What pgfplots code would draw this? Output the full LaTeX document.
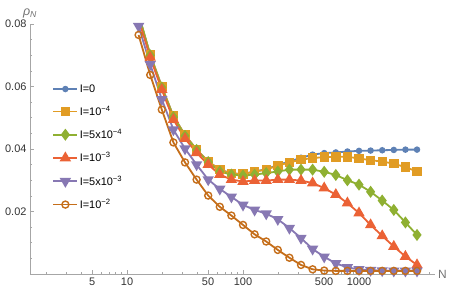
\documentclass[border=0pt]{standalone}
\usepackage{fontspec}
\setmainfont{Liberation Sans}
\usepackage{pgfplots}
\usepackage{pgfplotstable}
\pgfplotsset{compat=1.18}
\definecolor{c1}{rgb}{0.368417,0.506779,0.709798}
\definecolor{c2}{rgb}{0.880722,0.611041,0.142051}
\definecolor{c3}{rgb}{0.560181,0.691569,0.194885}
\definecolor{c4}{rgb}{0.922526,0.385626,0.209179}
\definecolor{c5}{rgb}{0.528488,0.470624,0.701351}
\definecolor{c6}{rgb}{0.772079,0.431554,0.102387}
\pgfplotstableread{
N      a      b      c      d      e      f
12.589 0.0830 0.0830 0.0830 0.0815 0.0793 0.0765
15.849 0.0702 0.0702 0.0700 0.0693 0.0671 0.0637
19.953 0.0600 0.0600 0.0597 0.0590 0.0559 0.0526
25.119 0.0505 0.0505 0.0502 0.0494 0.0462 0.0421
31.623 0.0445 0.0445 0.0442 0.0433 0.0401 0.0357
39.811 0.0398 0.0398 0.0397 0.0388 0.0350 0.0302
50.119 0.0360 0.0360 0.0358 0.0350 0.0302 0.0251
63.096 0.0334 0.0334 0.0328 0.0318 0.0272 0.0215
79.433 0.0322 0.0322 0.0318 0.0302 0.0247 0.0187
100    0.0320 0.0320 0.0315 0.0296 0.0221 0.0157
125.89 0.0328 0.0328 0.0318 0.0299 0.0205 0.0127
158.49 0.0335 0.0334 0.0323 0.0299 0.0193 0.0104
199.53 0.0349 0.0347 0.0328 0.0302 0.0175 0.0077
251.19 0.0360 0.0357 0.0334 0.0302 0.0147 0.0052
316.23 0.0372 0.0366 0.0334 0.0299 0.0115 0.0029
398.11 0.0382 0.0371 0.0334 0.0291 0.0080 0.0015
501.19 0.0387 0.0374 0.0327 0.0275 0.0055 0.0011
630.96 0.0389 0.0375 0.0317 0.0254 0.0034 0.0010
794.33 0.0392 0.0375 0.0300 0.0227 0.0021 0.0010
1000   0.0394 0.0370 0.0286 0.0195 0.0015 0.0010
1258.9 0.0395 0.0364 0.0263 0.0157 0.0012 0.0010
1584.9 0.0396 0.0360 0.0235 0.0122 0.0011 0.0010
1995.3 0.0397 0.0353 0.0205 0.0088 0.0010 0.0010
2511.9 0.0398 0.0342 0.0165 0.0056 0.0010 0.0010
3162.3 0.0398 0.0328 0.0125 0.0029 0.0010 0.0010
}\datatable
\begin{document}
\begin{tikzpicture}
\path[use as bounding box] (-30bp,-21bp) rectangle (427bp,274bp);
\begin{axis}[
  at={(0,0)}, anchor=south west,
  scale only axis, width=405bp, height=250bp,
  xmode=log, xmin=1.458, xmax=4520, ymin=0, ymax=0.08,
  scaled y ticks=false,
  axis lines*=left,
  axis line style={black!35, line width=0.7bp},
  tick style={black!35, line width=0.6bp},
  tick align=inside,
  major tick length=4bp, minor tick length=2.5bp,
  xtick={5,10,50,100,500,1000},
  xticklabels={5,10,50,100,500,1000},
  minor xtick={2,3,4,6,7,8,9,20,30,40,60,70,80,90,200,300,400,600,700,800,900,2000,3000,4000},
  ytick={0.02,0.04,0.06,0.08},
  yticklabels={0.02,0.04,0.06,0.08},
  minor ytick={0.005,0.01,0.015,0.025,0.03,0.035,0.045,0.05,0.055,0.065,0.07,0.075},
  ticklabel style={font=\fontsize{11}{13}\selectfont, text=black!80},
  xlabel={N}, ylabel={\textit{ρ}\textsubscript{\textit{N}}},
  xlabel style={at={(axis description cs:1,0)}, anchor=west, font=\fontsize{12}{14}\selectfont, text=black!55, inner sep=3bp},
  ylabel style={at={(axis description cs:0,1)}, anchor=south, rotate=-90, font=\fontsize{12.5}{15}\selectfont, text=black!55, inner sep=0bp, yshift=6bp},
  legend image code/.code={\draw[mark repeat=2,mark phase=2] plot coordinates {(0bp,0bp) (12bp,0bp) (24bp,0bp)};},
  legend cell align=left,
  legend style={at={(rel axis cs:0.055,0.765)}, anchor=north west, draw=none, fill=none,
     font=\fontsize{11}{13}\selectfont, inner sep=0pt, row sep=9.5bp,
     nodes={inner sep=1.5bp}},
  every axis plot/.append style={line width=1.8bp},
]
\addplot[c1, mark=*, mark size=2.3bp, mark options={fill=c1, draw=c1}] table[x=N,y=a] {\datatable};
\addplot[c2, mark=square*, mark size=3.8bp, mark options={fill=c2, draw=c2}] table[x=N,y=b] {\datatable};
\addplot[c3, mark=diamond*, mark size=4.6bp, mark options={fill=c3, draw=c3}] table[x=N,y=c] {\datatable};
\addplot[c4, mark=triangle*, mark size=4.8bp, mark options={fill=c4, draw=c4}] table[x=N,y=d] {\datatable};
\addplot[c5, mark=triangle*, mark size=4.8bp, mark options={fill=c5, draw=c5, rotate=180}] table[x=N,y=e] {\datatable};
\addplot[c6, mark=o, mark size=3.5bp, mark options={draw=c6, line width=1.4bp}] table[x=N,y=f] {\datatable};
\legend{I=0, I=10\textsuperscript{−4}, I=5x10\textsuperscript{−4}, I=10\textsuperscript{−3}, I=5x10\textsuperscript{−3}, I=10\textsuperscript{−2}}
\end{axis}
\end{tikzpicture}
\end{document}
